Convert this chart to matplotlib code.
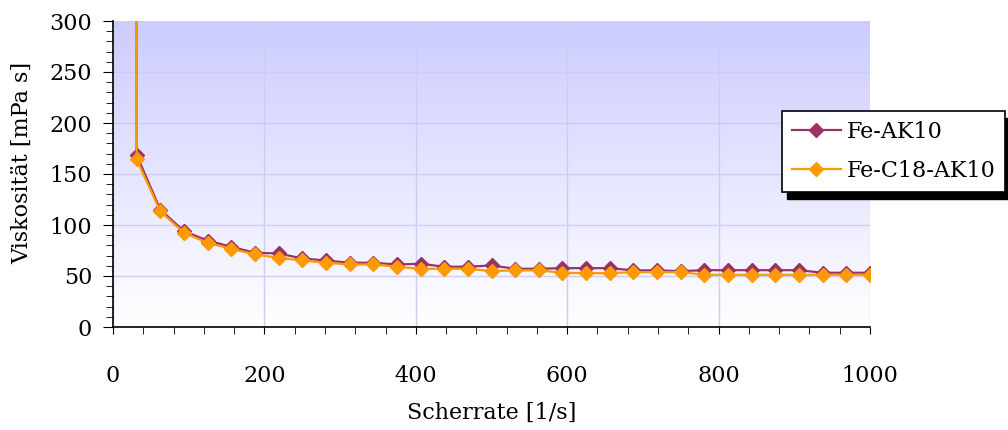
import numpy as np
import matplotlib
matplotlib.use("Agg")
import matplotlib.pyplot as plt
from matplotlib.patches import Rectangle
from matplotlib.ticker import MultipleLocator

plt.rcParams['font.family'] = 'DejaVu Serif'

# Scherrate [1/s] (the first entry is the start-up spike, off scale)
rate = [31.25, 31.25, 62.5, 93.75, 125, 156.25, 187.5, 218.75, 250, 281.25,
        312.5, 343.75, 375, 406.25, 437.5, 468.75, 500, 531.25, 562.5,
        593.75, 625, 656.25, 687.5, 718.75, 750, 781.25, 812.5, 843.75,
        875, 906.25, 937.5, 968.75, 1000]

fe_ak10 = [600, 168.6, 115.1, 93.9, 84.8, 78.6, 72.8, 72.1, 67.2, 65.2, 63.0,
           63.0, 61.3, 62.0, 59.1, 59.1, 60.3, 57.1, 57.1, 57.7, 57.7, 57.7,
           55.5, 55.5, 54.8, 55.7, 55.7, 55.7, 55.7, 55.7, 53.2, 53.2, 53.2]

fe_c18_ak10 = [600, 164.3, 113.4, 92.3, 82.5, 76.7, 71.1, 67.9, 65.2, 63.0,
               61.3, 61.3, 59.1, 57.1, 57.1, 57.1, 54.8, 55.5, 55.5, 53.2,
               52.8, 52.8, 53.8, 53.8, 53.8, 51.2, 51.2, 51.2, 51.2, 51.2,
               51.2, 51.2, 51.2]

purple = '#993366'
orange = '#FF9900'
fs = 16

fig = plt.figure(figsize=(10.08, 4.30), dpi=100)
ax = fig.add_axes([113/1008, 1-327/430, 757/1008, 306/430])

# blue-to-white gradient behind the plot (row 0 = top)
grad = np.linspace(0, 1, 256).reshape(-1, 1)
top = np.array([204, 204, 255]) / 255.0
img = top[None, None, :] * (1 - grad[:, :, None]) + np.ones(3)[None, None, :] * grad[:, :, None]
ax.imshow(img, extent=[0, 1000, 0, 300], origin='upper', aspect='auto', zorder=0)

ax.plot(rate, fe_ak10, color=purple, lw=1.6, marker='D', ms=7, label='Fe-AK10', zorder=3)
ax.plot(rate, fe_c18_ak10, color=orange, lw=1.6, marker='D', ms=7, label='Fe-C18-AK10', zorder=4)

ax.set_xlim(0, 1000)
ax.set_ylim(0, 300)
ax.xaxis.set_major_locator(MultipleLocator(200))
ax.xaxis.set_minor_locator(MultipleLocator(40))
ax.yaxis.set_major_locator(MultipleLocator(50))
ax.yaxis.set_minor_locator(MultipleLocator(10))

ax.set_axisbelow(True)
ax.grid(True, which='major', color='#ccccf5', lw=1)

for s in ['top', 'right']:
    ax.spines[s].set_visible(False)
for s in ['left', 'bottom']:
    ax.spines[s].set_linewidth(1.2)

ax.tick_params(axis='both', which='both', direction='out', labelsize=fs)
ax.tick_params(axis='y', which='major', length=7, pad=8)
ax.tick_params(axis='y', which='minor', length=5)
ax.tick_params(axis='x', which='major', length=5, pad=22)
ax.tick_params(axis='x', which='minor', length=5)

fig.text(492/1008, 1-413/430, 'Scherrate [1/s]', ha='center', va='center', fontsize=fs)
fig.text(22/1008, 1-163/430, 'Viskosität [mPa s]', ha='center', va='center',
         rotation=90, fontsize=fs)

leg = fig.legend(loc='upper left', bbox_to_anchor=(782/1008, 1-111/430),
                 fontsize=fs, frameon=True, fancybox=False, edgecolor='black',
                 framealpha=1, handlelength=2.2, handletextpad=0.25,
                 borderpad=0.45, labelspacing=0.75, borderaxespad=0)
leg.get_frame().set_linewidth(1.2)
fig.canvas.draw()
bb = leg.get_window_extent().transformed(fig.transFigure.inverted())
fig.add_artist(Rectangle((bb.x0 + 5/1008, bb.y0 - 7/430), bb.width, bb.height,
                         transform=fig.transFigure, color='black', zorder=4))

fig.savefig('out.png', dpi=100)
